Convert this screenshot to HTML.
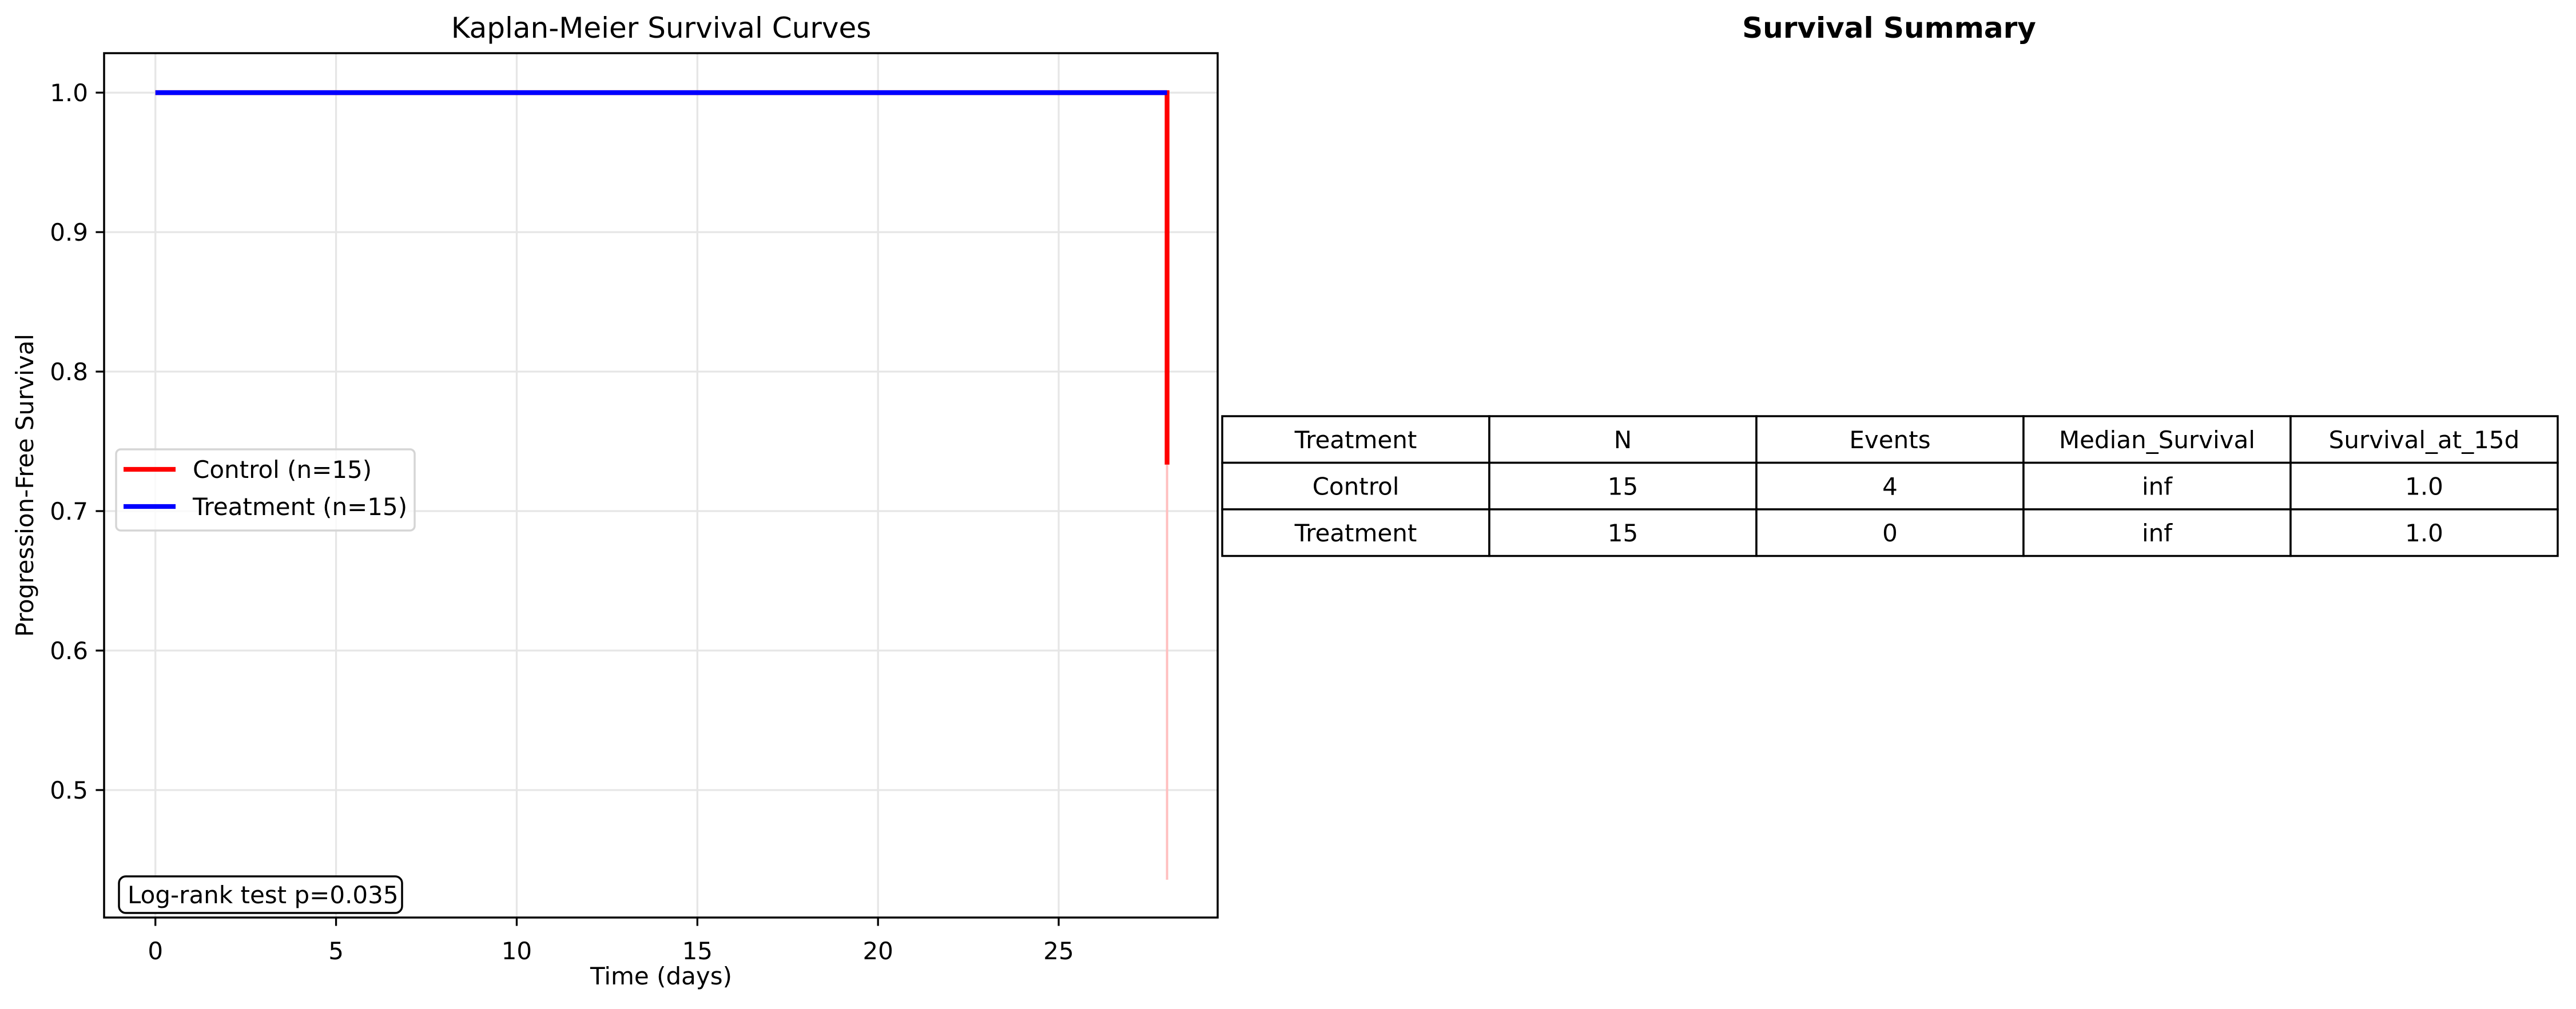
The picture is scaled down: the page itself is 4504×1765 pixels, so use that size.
<!DOCTYPE html>
<html><head><meta charset="utf-8"><style>
html,body{margin:0;padding:0;background:#fff;}
svg{display:block;font-family:"DejaVu Sans","Liberation Sans",sans-serif;}
</style></head><body>
<svg id="fig" width="4504" height="1765" viewBox="0 0 4504 1765" xmlns="http://www.w3.org/2000/svg">
<rect width="4504" height="1765" fill="#fff"/>
<text x="1156" y="66" font-size="50" text-anchor="middle">Kaplan-Meier Survival Curves</text>
<g id="grid"></g>
<g id="ticks"></g>
<g id="series"></g>
<rect x="182" y="93" width="1947" height="1512" fill="none" stroke="#000" stroke-width="3.5"/>
<text x="1156" y="1722" font-size="42" text-anchor="middle">Time (days)</text>
<text transform="translate(58,849) rotate(-90)" font-size="42" text-anchor="middle">Progression-Free Survival</text>
<g>
<rect x="203" y="786" width="522" height="142" rx="8" fill="#fff" fill-opacity="0.8" stroke="#d5d5d5" stroke-width="3.5"/>
<line x1="216" y1="821" x2="307" y2="821" stroke="#ff0000" stroke-width="8.3"/>
<text x="337" y="836" font-size="42">Control (n=15)</text>
<line x1="216" y1="886" x2="307" y2="886" stroke="#0000ff" stroke-width="8.3"/>
<text x="337" y="901" font-size="42">Treatment (n=15)</text>
</g>
<g>
<rect x="208" y="1533" width="495" height="64" rx="12" fill="#fff" stroke="#000" stroke-width="3.5"/>
<text x="223" y="1580" font-size="42">Log-rank test p=0.035</text>
</g>
<text x="3303" y="66" font-size="50" font-weight="bold" text-anchor="middle">Survival Summary</text>
<g id="table"></g>
</svg>
<script>
const xTicks=[0,5,10,15,20,25];
const yTicks=[0.5,0.6,0.7,0.8,0.9,1.0];
const controlTimes=[0,28,28];
const controlSurv=[1.0,1.0,0.7333];
const treatmentTimes=[0,28];
const treatmentSurv=[1.0,1.0];
const ciTime=[28];
const ciLow=[0.4357];
const ciHigh=[0.7333];
const tableHeader=["Treatment","N","Events","Median_Survival","Survival_at_15d"];
const tableRow1=["Control","15","4","inf","1.0"];
const tableRow2=["Treatment","15","0","inf","1.0"];

const NS="http://www.w3.org/2000/svg";
const X0=182,X1=2129,Y0=93,Y1=1605,xmin=-1.42,xmax=29.4,ymin=0.4086,ymax=1.0283;
const sx=v=>X0+(v-xmin)/(xmax-xmin)*(X1-X0);
const sy=v=>Y1-(v-ymin)/(ymax-ymin)*(Y1-Y0);
function mk(tag,attrs,parent){const e=document.createElementNS(NS,tag);for(const k in attrs)e.setAttribute(k,attrs[k]);parent.appendChild(e);return e;}
const grid=document.getElementById('grid'),ticks=document.getElementById('ticks'),ser=document.getElementById('series');
xTicks.forEach(t=>{
 const x=sx(t);
 const g=mk('line',{x1:x,x2:x,y1:Y0,y2:Y1,stroke:'#e6e6e6','stroke-width':3.3},grid);
 
 
 const tk=mk('line',{x1:x,x2:x,y1:Y1,y2:Y1+14.6,stroke:'#000','stroke-width':3.3},ticks);
 
 
 const tx=mk('text',{x:x,y:Y1+73,'font-size':42,'text-anchor':'middle'},ticks);
 tx.textContent=String(t);
 
 
});
yTicks.forEach(t=>{
 const y=sy(t);
 const g=mk('line',{x1:X0,x2:X1,y1:y,y2:y,stroke:'#e6e6e6','stroke-width':3.3},grid);
 
 
 const tk=mk('line',{x1:X0-14.6,x2:X0,y1:y,y2:y,stroke:'#000','stroke-width':3.3},ticks);
 
 
 const tx=mk('text',{x:X0-28,y:y+15,'font-size':42,'text-anchor':'end'},ticks);
 tx.textContent=t.toFixed(1);
 
 
});
ciTime.forEach((t,i)=>{
 const c=mk('line',{x1:sx(t),x2:sx(t),y1:sy(ciHigh[i]),y2:sy(ciLow[i]),stroke:'#ffbfbf','stroke-width':4},ser);
 
 
});
function pts(ts,vs){return ts.map((t,i)=>sx(t)+','+sy(vs[i])).join(' ');}
const cl=mk('polyline',{points:pts(controlTimes,controlSurv),fill:'none',stroke:'#ff0000','stroke-width':8.3},ser);


const tl=mk('polyline',{points:pts(treatmentTimes,treatmentSurv),fill:'none',stroke:'#0000ff','stroke-width':8.3},ser);



const tbl=document.getElementById('table');
const TX0=2137,TX1=4472,TY0=728,RH=81.5,cw=(TX1-TX0)/5;
[tableHeader,tableRow1,tableRow2].forEach((row,r)=>{
 row.forEach((c,j)=>{
  const rc=mk('rect',{x:TX0+j*cw,y:TY0+r*RH,width:cw,height:RH,fill:'#fff',stroke:'#000','stroke-width':3.5},tbl);
  
  
  const tx=mk('text',{x:TX0+j*cw+cw/2,y:TY0+r*RH+RH/2+15,'font-size':42,'text-anchor':'middle'},tbl);
  tx.textContent=c;
  
  
 });
});
</script>
</body></html>
